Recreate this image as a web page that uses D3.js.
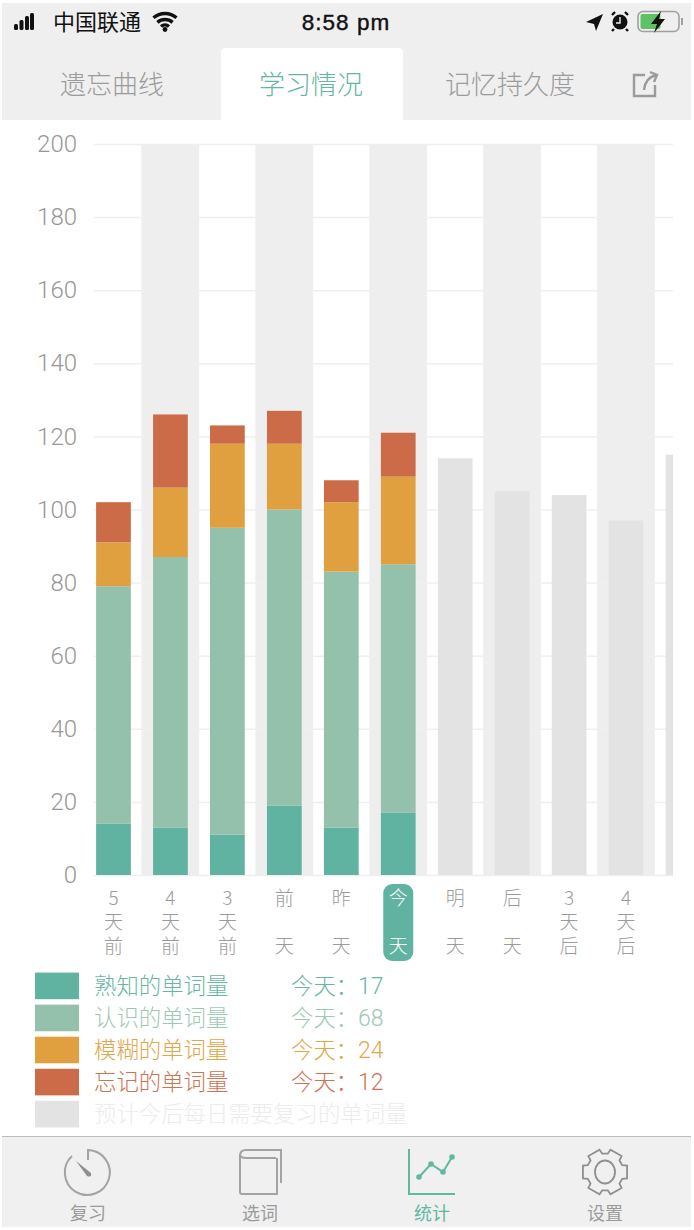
<!DOCTYPE html>
<html>
<head>
<meta charset="utf-8">
<script src="https://cdn.jsdelivr.net/npm/d3@7"></script>
<style>
html, body { margin: 0; padding: 0; background: #fff; }
svg { display: block; }
text { font-family: "Noto Sans CJK SC", "Noto Sans", sans-serif; }
</style>
</head>
<body>
<svg id="app"></svg>
<script>
var width = 694;
var height = 1230;

// chart values
var days = ['5天前', '4天前', '3天前', '前天', '昨天', '今天', '明天', '后天', '3天后', '4天后', '5天后'];
var dayLines = [['5','天','前'], ['4','天','前'], ['3','天','前'], ['前','','天'], ['昨','','天'],
                ['今','','天'], ['明','','天'], ['后','','天'], ['3','天','后'], ['4','天','后'], []];
var known = [14, 13, 11, 19, 13, 17];     // 熟知
var familiar = [65, 74, 84, 81, 70, 68];  // 认识
var fuzzy = [12, 19, 23, 18, 19, 24];     // 模糊
var forgot = [11, 20, 5, 9, 6, 12];       // 忘记
var forecast = [114, 105, 104, 97, 115];  // 预计
var yTicks = [0, 20, 40, 60, 80, 100, 120, 140, 160, 180, 200];

var seriesNames = ['熟知的单词量', '认识的单词量', '模糊的单词量', '忘记的单词量'];
var seriesColors = ['#5fb3a0', '#93c1ab', '#e0a040', '#cc6b47'];
var todayValues = [17, 68, 24, 12];
var forecastName = '预计今后每日需要复习的单词量';
var forecastColor = '#e3e3e3';
var tabNames = ['遗忘曲线', '学习情况', '记忆持久度'];
var navNames = ['复习', '选词', '统计', '设置'];

var green = '#5fb8a0';
var gray = '#9b9b9b';
var barColor = '#efefef';

var mysvg = d3.select('#app').attr('width', width).attr('height', height);

// scales
var y = d3.scaleLinear().domain([0, 200]).range([875, 144]);
var x = d3.scaleBand().domain(days).range([85, 711.5]).paddingInner(0.39).paddingOuter(0.195);
var step = x.step();

mysvg.append('defs').append('clipPath').attr('id', 'plotClip')
  .append('rect').attr('x', 0).attr('y', 130).attr('width', 673).attr('height', 760);

// status bar + tabs background
mysvg.append('rect').attr('x', 2).attr('y', 3).attr('width', 689).attr('height', 117).attr('fill', barColor);
mysvg.append('path').attr('fill', '#fff')
  .attr('d', 'M221,121V52Q221,48 225,48H399Q403,48 403,52V121Z');

var tabX = [112, 311, 510];
mysvg.selectAll('.tab').data(tabNames).enter().append('text')
  .attr('class', 'tab')
  .attr('x', function(d, i) { return tabX[i]; })
  .attr('y', 94)
  .attr('text-anchor', 'middle')
  .attr('font-size', 26)
  .attr('font-weight', 300)
  .attr('fill', function(d, i) { return i == 1 ? green : gray; })
  .text(function(d) { return d; });

// share icon
mysvg.append('path').attr('fill', 'none').attr('stroke', gray).attr('stroke-width', 2.4)
  .attr('d', 'M645,75H634V96H655V85M644,90Q645,78 656,75M650,72L657,75L654,82');

// status bar
var signal = [[14, 24], [19.5, 20], [25, 16], [30, 13]];
mysvg.selectAll('.sig').data(signal).enter().append('rect')
  .attr('class', 'sig')
  .attr('x', function(d) { return d[0]; })
  .attr('y', function(d) { return d[1]; })
  .attr('width', 4)
  .attr('height', function(d) { return 30 - d[1]; })
  .attr('rx', 1.5)
  .attr('fill', '#111');
mysvg.append('text').attr('x', 53).attr('y', 30).attr('font-size', 22).attr('fill', '#111').text('中国联通');
[17.5, 11.5, 6].forEach(function(r) {
  mysvg.append('path').attr('fill', 'none').attr('stroke', '#111').attr('stroke-width', 3.4)
    .attr('d', d3.arc()({ innerRadius: r, outerRadius: r, startAngle: -0.72, endAngle: 0.72 }))
    .attr('transform', 'translate(165,31)');
});
mysvg.append('circle').attr('cx', 165).attr('cy', 29.5).attr('r', 2.4).attr('fill', '#111');
mysvg.append('text').attr('x', 346).attr('y', 30).attr('text-anchor', 'middle')
  .attr('font-size', 22.5).attr('letter-spacing', 1).attr('stroke', '#111').attr('stroke-width', 0.4)
  .style('font-family', '"Liberation Sans"')
  .attr('fill', '#111').text('8:58 pm');
mysvg.append('path').attr('fill', '#111').attr('d', 'M586,22L603,14L596,31L594,24Z');
mysvg.append('circle').attr('cx', 620).attr('cy', 22).attr('r', 7.5).attr('fill', '#111');
mysvg.append('path').attr('fill', 'none').attr('stroke', '#eee').attr('stroke-width', 1.4).attr('d', 'M620,17V23H616');
mysvg.append('path').attr('fill', 'none').attr('stroke', '#111').attr('stroke-width', 2.4).attr('d', 'M612,15L615,12M628,15L625,12M614,29L612,31M626,29L628,31');
mysvg.append('rect').attr('x', 638).attr('y', 11.5).attr('width', 41).attr('height', 20).attr('rx', 5).attr('fill', 'none').attr('stroke', '#a0a0a0').attr('stroke-width', 1.6);
mysvg.append('rect').attr('x', 640.5).attr('y', 14).attr('width', 20).attr('height', 15).attr('rx', 2).attr('fill', '#5cc265');
mysvg.append('path').attr('fill', '#111').attr('d', 'M661,11L651,24H657L654,33L665,19H659Z');
mysvg.append('rect').attr('x', 681).attr('y', 18).attr('width', 2).attr('height', 7).attr('fill', '#a0a0a0');

// alternating background bands
var bandG = mysvg.append('g').attr('clip-path', 'url(#plotClip)');
bandG.selectAll('.band').data(days.filter(function(d, i) { return i % 2 == 1; })).enter().append('rect')
  .attr('class', 'band')
  .attr('x', function(d) { return x(d) + x.bandwidth() / 2 - step / 2 - 0.5; })
  .attr('y', y(200))
  .attr('width', step + 0.8)
  .attr('height', y(0) - y(200))
  .attr('fill', '#eeeeee');

// axis and grid lines
var yAxis = d3.axisLeft(y).tickValues(yTicks).tickSize(-(673 - 94)).tickPadding(17);
var axisG = mysvg.append('g').attr('transform', 'translate(94,0)').call(yAxis);
axisG.select('.domain').remove();
axisG.selectAll('line').attr('stroke', '#efefef').attr('stroke-width', 1.5);
axisG.selectAll('text').attr('font-size', 24).attr('fill', '#979797')
  .style('font-family', 'Roboto').attr('font-weight', 300);

// bars sit on top of the grid
var plot = mysvg.append('g').attr('clip-path', 'url(#plotClip)');

// stacked bars
var actual = days.slice(0, known.length).map(function(d, i) {
  return { day: d, s0: known[i], s1: familiar[i], s2: fuzzy[i], s3: forgot[i] };
});
var stack = d3.stack().keys(['s0', 's1', 's2', 's3'])(actual);
var stackG = plot.selectAll('.stack').data(stack).enter().append('g')
  .attr('class', 'stack')
  .attr('fill', function(d, i) { return seriesColors[i]; });
stackG.selectAll('rect').data(function(d) { return d; }).enter().append('rect')
  .attr('x', function(d) { return x(d.data.day); })
  .attr('y', function(d) { return y(d[1]); })
  .attr('width', x.bandwidth())
  .attr('height', function(d) { return y(d[0]) - y(d[1]); });

// forecast bars
var futureDays = days.slice(known.length);
plot.selectAll('.future').data(forecast).enter().append('rect')
  .attr('class', 'future')
  .attr('x', function(d, i) { return x(futureDays[i]); })
  .attr('y', function(d) { return y(d); })
  .attr('width', x.bandwidth())
  .attr('height', function(d) { return y(0) - y(d); })
  .attr('fill', forecastColor);

// day labels, written top to bottom
var todayX = x('今天') + x.bandwidth() / 2;
mysvg.append('rect').attr('x', todayX - 15).attr('y', 884).attr('width', 30).attr('height', 77)
  .attr('rx', 9).attr('fill', seriesColors[0]);
var lineY = [905, 929, 953];
var labelT = mysvg.selectAll('.day').data(days).enter().append('text')
  .attr('class', 'day')
  .attr('text-anchor', 'middle')
  .attr('font-size', 19)
  .attr('font-weight', 300)
  .attr('fill', function(d) { return d == '今天' ? '#fff' : gray; });
labelT.selectAll('tspan').data(function(d, i) {
    return dayLines[i].map(function(c) { return { c: c, day: d }; });
  })
  .enter().append('tspan')
  .attr('x', function(d) { return x(d.day) + x.bandwidth() / 2; })
  .attr('y', function(d, i) { return lineY[i]; })
  .text(function(d) { return d.c; });

// legend
var legendY = d3.scaleBand().domain(d3.range(5)).range([970, 1130]).paddingInner(0.17).paddingOuter(0.08);
var legendRows = seriesNames.concat([forecastName]);
var legendColors = seriesColors.concat(['#e3e3e3']);
var legendText = ['#67b7a3', '#9ec8b4', '#e3a549', '#cf7352', '#ececec'];
mysvg.selectAll('.swatch').data(legendRows).enter().append('rect')
  .attr('class', 'swatch')
  .attr('x', 35)
  .attr('y', function(d, i) { return legendY(i); })
  .attr('width', 44)
  .attr('height', legendY.bandwidth())
  .attr('fill', function(d, i) { return legendColors[i]; });
mysvg.selectAll('.legName').data(legendRows).enter().append('text')
  .attr('class', 'legName')
  .attr('x', 94)
  .attr('y', function(d, i) { return legendY(i) + legendY.bandwidth() / 2 + 8; })
  .attr('font-size', 22.4)
  .attr('font-weight', 300)
  .attr('fill', function(d, i) { return legendText[i]; })
  .text(function(d) { return d; });
mysvg.selectAll('.legToday').data(todayValues).enter().append('text')
  .attr('class', 'legToday')
  .attr('x', 291)
  .attr('y', function(d, i) { return legendY(i) + legendY.bandwidth() / 2 + 8; })
  .attr('font-size', 22.4)
  .attr('font-weight', 300)
  .attr('fill', function(d, i) { return legendText[i]; })
  .text('今天：');
mysvg.selectAll('.legValue').data(todayValues).enter().append('text')
  .attr('class', 'legValue')
  .attr('x', 358)
  .attr('y', function(d, i) { return legendY(i) + legendY.bandwidth() / 2 + 8; })
  .attr('font-size', 23)
  .attr('font-weight', 300)
  .style('font-family', 'Roboto')
  .attr('fill', function(d, i) { return legendText[i]; })
  .text(function(d) { return d; });

// bottom nav
mysvg.append('rect').attr('x', 2).attr('y', 1137).attr('width', 689).attr('height', 90).attr('fill', '#f0f0f0');
mysvg.append('line').attr('x1', 2).attr('x2', 691).attr('y1', 1136.5).attr('y2', 1136.5).attr('stroke', '#bcbcbc').attr('stroke-width', 1.2);
var navX = [88, 260, 432, 605];
mysvg.selectAll('.nav').data(navNames).enter().append('text')
  .attr('class', 'nav')
  .attr('x', function(d, i) { return navX[i]; })
  .attr('y', 1220)
  .attr('text-anchor', 'middle')
  .attr('font-size', 18)
  .attr('fill', function(d, i) { return i == 2 ? green : gray; })
  .text(function(d) { return d; });

// timer icon
mysvg.append('path').attr('fill', 'none').attr('stroke', '#a3a3a3').attr('stroke-width', 2)
  .attr('d', 'M72,1156A22.5,22.5 0 1 0 88,1150V1160');
mysvg.append('path').attr('fill', '#8f8f8f').attr('d', 'M76,1161L91,1173Q92,1178 87,1176Z');
// book icon
mysvg.append('path').attr('fill', 'none').attr('stroke', '#a3a3a3').attr('stroke-width', 2)
  .attr('d', 'M240,1156Q240,1150 246,1150H281V1183M276,1158H246Q240,1158 240,1154V1192Q240,1194 242,1194H277V1158');
// chart icon
mysvg.append('path').attr('fill', 'none').attr('stroke', green).attr('stroke-width', 2)
  .attr('d', 'M409,1149V1194H455');
var iconPts = [[419, 1177], [431, 1164], [443, 1172], [452, 1157]];
mysvg.append('path').attr('fill', 'none').attr('stroke', green).attr('stroke-width', 2)
  .attr('d', d3.line()(iconPts));
mysvg.selectAll('.ipt').data(iconPts).enter().append('circle')
  .attr('class', 'ipt')
  .attr('cx', function(d) { return d[0]; })
  .attr('cy', function(d) { return d[1]; })
  .attr('r', 2.8)
  .attr('fill', green);
// gear icon
var gearPts = [];
for (var a = 0; a < 6; a++) {
  var t = a * Math.PI / 3;
  [[-0.32, 23], [-0.2, 18.5], [0.2, 18.5], [0.32, 23]].forEach(function(p) {
    gearPts.push([605 + p[1] * Math.sin(t + p[0] * 0.75), 1172 - p[1] * Math.cos(t + p[0] * 0.75)]);
  });
}
mysvg.append('path').attr('fill', 'none').attr('stroke', '#8f8f8f').attr('stroke-width', 1.8)
  .attr('d', d3.line().curve(d3.curveLinearClosed)(gearPts));
mysvg.append('ellipse').attr('cx', 605).attr('cy', 1172).attr('rx', 10).attr('ry', 11.5)
  .attr('fill', 'none').attr('stroke', '#8f8f8f').attr('stroke-width', 1.8);
</script>
</body>
</html>
